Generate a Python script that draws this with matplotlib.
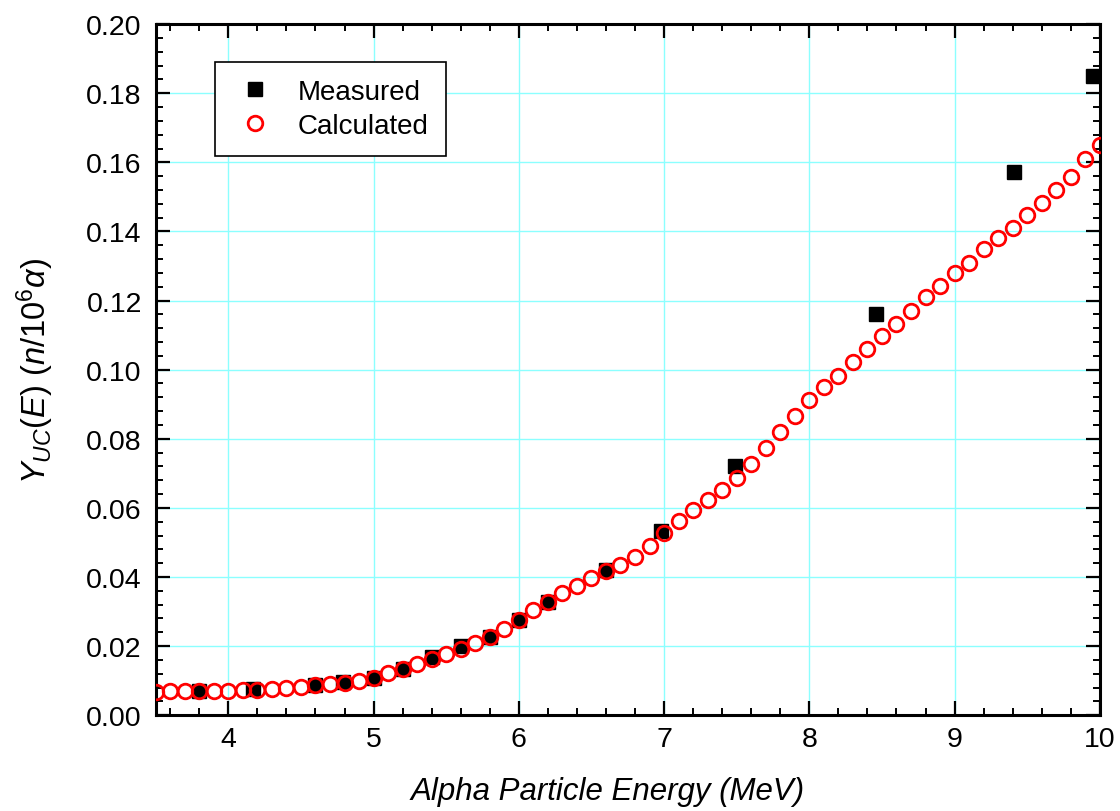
import matplotlib as mpl
mpl.use('Agg')
import numpy as np
import matplotlib.pyplot as plt
from matplotlib.ticker import MultipleLocator

mpl.rcParams.update({
    'font.family': 'Liberation Sans',
    'mathtext.fontset': 'custom',
    'mathtext.rm': 'Liberation Sans',
    'mathtext.it': 'Liberation Sans:italic',
})

# measured yield
e_meas = [3.8, 4.17, 4.6, 4.79, 5.0, 5.2, 5.4, 5.6, 5.8, 6.0, 6.2, 6.6, 6.98, 7.49, 8.46, 9.41, 9.95]
y_meas = [0.0070, 0.0075, 0.0087, 0.0095, 0.0109, 0.0135, 0.0167, 0.0199, 0.0227, 0.0276,
          0.0329, 0.0421, 0.0533, 0.0722, 0.1161, 0.1573, 0.1851]

# calculated yield, 3.5 .. 10.0 MeV in 0.1 steps
e_calc = [3.5, 3.6, 3.7, 3.8, 3.9, 4.0, 4.1, 4.2, 4.3, 4.4, 4.5, 4.6, 4.7, 4.8, 4.9,
          5.0, 5.1, 5.2, 5.3, 5.4, 5.5, 5.6, 5.7, 5.8, 5.9, 6.0, 6.1, 6.2, 6.3, 6.4,
          6.5, 6.6, 6.7, 6.8, 6.9, 7.0, 7.1, 7.2, 7.3, 7.4, 7.5, 7.6, 7.7, 7.8, 7.9,
          8.0, 8.1, 8.2, 8.3, 8.4, 8.5, 8.6, 8.7, 8.8, 8.9, 9.0, 9.1, 9.2, 9.3, 9.4,
          9.5, 9.6, 9.7, 9.8, 9.9, 10.0]
y_calc = [0.0068, 0.0070, 0.0070, 0.0070, 0.0070, 0.0071, 0.0072, 0.0074, 0.0077, 0.0079,
          0.0083, 0.0086, 0.0089, 0.0093, 0.0099, 0.0109, 0.0121, 0.0133, 0.0147, 0.0163,
          0.0177, 0.0193, 0.0208, 0.0225, 0.0249, 0.0276, 0.0304, 0.0328, 0.0353, 0.0375,
          0.0396, 0.0416, 0.0435, 0.0458, 0.0489, 0.0526, 0.0562, 0.0595, 0.0624, 0.0652,
          0.0687, 0.0726, 0.0773, 0.0820, 0.0865, 0.0912, 0.0950, 0.0983, 0.1021, 0.1059,
          0.1098, 0.1131, 0.1169, 0.1210, 0.1241, 0.1279, 0.1310, 0.1349, 0.1380, 0.1409,
          0.1448, 0.1481, 0.1520, 0.1559, 0.1611, 0.1651]

fig = plt.figure(figsize=(11.2, 8.12), dpi=100)
ax = fig.add_axes([0.139, 0.118, 0.843, 0.851])

ax.plot(e_meas, y_meas, 's', color='black', ms=10, label='Measured', zorder=3)
ax.plot(e_calc, y_calc, 'o', mfc='none', mec='red', mew=2, ms=10.5, label='Calculated', zorder=4)

ax.set_xlim(3.5, 10)
ax.set_ylim(0, 0.20)
ax.xaxis.set_major_locator(MultipleLocator(1))
ax.xaxis.set_minor_locator(MultipleLocator(0.2))
ax.yaxis.set_major_locator(MultipleLocator(0.02))
ax.yaxis.set_minor_locator(MultipleLocator(0.004))
ax.yaxis.set_major_formatter(mpl.ticker.FormatStrFormatter('%.2f'))

ax.grid(True, which='major', color='#8cffff', lw=1.0, zorder=0)
ax.set_axisbelow(True)
ax.tick_params(which='both', direction='in', top=True, right=True, labelsize=20.5)
ax.tick_params(which='major', length=10, width=1.6)
ax.tick_params(axis='y', which='major', pad=10)
ax.tick_params(axis='x', which='major', pad=8)
ax.tick_params(which='minor', length=5, width=1.4)
for s in ax.spines.values():
    s.set_linewidth(2.2)

ax.set_xlabel('Alpha Particle Energy (MeV)', fontsize=22.5, style='italic', labelpad=17)
ax.xaxis.label.set_x(0.479)
ax.set_ylabel(r'$\mathit{Y_{UC}(E)\ (n/10^{6}\alpha)}$', fontsize=23.5, labelpad=22)

leg = ax.legend(loc='upper left', bbox_to_anchor=(0.0625, 0.945), borderaxespad=0,
                fontsize=20, frameon=True, fancybox=False, edgecolor='black', framealpha=1,
                borderpad=0.6, handletextpad=0.7, labelspacing=0.3, handlelength=1.7)
leg.get_frame().set_linewidth(1.2)

fig.savefig('out.png', dpi=100)
